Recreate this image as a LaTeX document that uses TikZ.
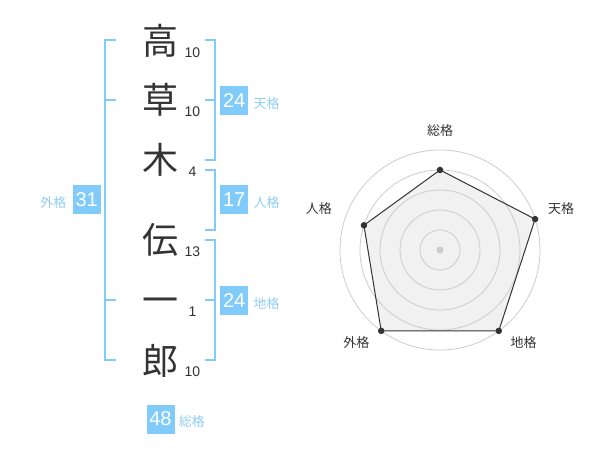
\documentclass[tikz,border=0pt]{standalone}
\usepackage{fontspec}
\setmainfont{Liberation Sans}
\newfontfamily\cjk{Noto Sans CJK JP}
\usetikzlibrary{positioning}

\definecolor{ink}{HTML}{333333}
\definecolor{sky}{HTML}{80CBF9}
\definecolor{skytext}{HTML}{8FCEF5}
\definecolor{ring}{HTML}{CCCCCC}
\definecolor{pane}{HTML}{F1F1F1}

\tikzset{
  kanji/.style={font=\cjk\fontsize{36}{36}\selectfont, text=ink, anchor=base, inner sep=0},
  strokes/.style={font=\fontsize{14}{14}\selectfont, text=ink, anchor=base, inner sep=0},
  scorebox/.style={fill=sky, text=white, minimum width=28pt, minimum height=29pt, inner sep=0,
    font=\fontsize{20}{20}\selectfont},
  kaku/.style={font=\cjk\fontsize{13}{13}\selectfont, text=skytext, inner sep=0},
  brace/.style={draw=sky, line width=2pt},
  axislabel/.style={font=\cjk\fontsize{13}{13}\selectfont, text=ink, inner sep=0},
  dot/.style={circle, fill=ink, inner sep=0, minimum size=6.5pt},
}

\begin{document}
\begin{tikzpicture}[x=1pt,y=-1pt]
  \useasboundingbox (0,0) rectangle (600,470);

  % name, one character per row
  \foreach \c/\y/\n/\s in {高/41/k1/10, 草/100/k2/10, 木/160/k3/4,
                           伝/240/k4/13, 一/300/k5/1, 郎/360/k6/10}{
    \node[kanji] (\n) at (160,\y+14) {\c};
    \node[strokes] (\n s) at (192.5,\y+17) {\s};
  }

  % brackets
  \draw[brace] (116,40) -- (105,40) -- (105,360) -- (116,360);
  \draw[brace] (105,100) -- (116,100);
  \draw[brace] (105,300) -- (116,300);

  \draw[brace] (205,40) -- (215,40) -- (215,160) -- (205,160);
  \draw[brace] (205,100) -- (215,100);
  \draw[brace] (205,170) -- (215,170) -- (215,230) -- (205,230);
  \draw[brace] (205,240) -- (215,240) -- (215,360) -- (205,360);
  \draw[brace] (205,300) -- (215,300);

  % scores
  \node[scorebox] (ten) at (234.2,100.5) {24};
  \node[kaku, base right=5pt of ten, yshift=-1pt] {天格};
  \node[scorebox] (jin) at (234.2,200) {17};
  \node[kaku, base right=5pt of jin, yshift=-1pt] {人格};
  \node[scorebox] (chi) at (234.2,300.5) {24};
  \node[kaku, base right=5pt of chi, yshift=-1pt] {地格};
  \node[scorebox] (gai) at (86.7,200) {31};
  \node[kaku, base left=6pt of gai, yshift=-1pt] {外格};
  \node[scorebox] (sou) at (160.5,419) {48};
  \node[kaku, base right=4pt of sou, yshift=-1pt] {総格};

  % radar
  \begin{scope}[shift={(440,250)}, yscale=-1]
    \coordinate (p1) at (90:80);
    \coordinate (p2) at (18:100);
    \coordinate (p3) at (-54:100);
    \coordinate (p4) at (-126:100);
    \coordinate (p5) at (162:80);
    \fill[pane] (p1) -- (p2) -- (p3) -- (p4) -- (p5) -- cycle;
    \foreach \r in {20,40,...,100}
      \draw[ring, line width=0.8pt] (0,0) circle (\r);
    \fill[ring] (0,0) circle (3.5);
    \draw[ink, line width=1pt] (p1) -- (p2) -- (p3) -- (p4) -- (p5) -- cycle;
    \foreach \p in {p1,p2,p3,p4,p5}
      \node[dot] at (\p) {};

    \node[axislabel] (l1) at (90:119) {総格};
    \node[axislabel] (l2) at (19:128) {天格};
    \node[axislabel] (l3) at (-48:125) {地格};
    \node[axislabel] (l4) at (-132:125) {外格};
    \node[axislabel] (l5) at (161:128) {人格};
  \end{scope}
\end{tikzpicture}
\end{document}
